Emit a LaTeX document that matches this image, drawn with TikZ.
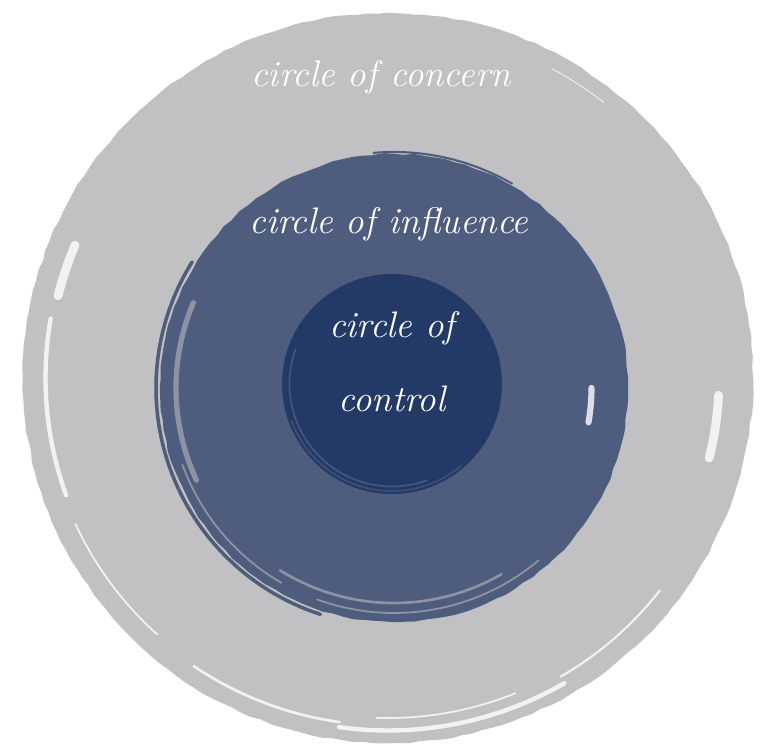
\documentclass[tikz,border=0pt]{standalone}
\usetikzlibrary{positioning, calc, decorations.pathmorphing}
\definecolor{concerngray}{HTML}{C1C1C3}
\definecolor{influenceblue}{HTML}{4E5D7E}
\definecolor{controlblue}{HTML}{243A66}
\tikzset{
    ring_node/.style={circle, inner sep=0pt, draw=none},
    rough_edge/.style={decorate, decoration={random steps, segment length=6pt, amplitude=0.5pt}},
    ring_text/.style={text=white, font=\fontsize{21}{25}\selectfont\itshape, align=center, inner sep=0pt},
    core_text/.style={text=white, font=\fontsize{21}{42}\selectfont\itshape, align=center, inner sep=0pt},
    streak/.style={draw=white, line cap=round, opacity=0.8},
    gray_streak/.style={draw=concerngray, line cap=round, opacity=0.55},
    tail/.style={draw=influenceblue, line cap=round},
}

\begin{document}
\begin{tikzpicture}
      \useasboundingbox (0,0) rectangle (15.44,14.92);
      %%%%%%%%%%%
      % Circles %
      %%%%%%%%%%%
      \node (concern) [ring_node, rough_edge, fill=concerngray, minimum size=14.6cm] at (7.76,7.36) {};
      \node (influence) [ring_node, rough_edge, fill=influenceblue, minimum size=9.36cm] at (7.88,7.16) {};
      \node (control) [ring_node, fill=controlblue, minimum size=4.4cm] at (7.84,7.24) {};

      %%%%%%%%%%%%%%%%%
      % Brush strokes %
      %%%%%%%%%%%%%%%%%
      \begin{scope}[shift={(concern.center)}]
          \draw [streak, line width=5pt] (157:6.8) arc (157:166:6.8);
          \draw [streak, line width=2.5pt] (170:6.85) arc (170:200:6.85);
          \draw [streak, line width=1pt] (205:6.9) arc (205:228:6.9);
          \draw [streak, line width=1.5pt] (236:6.95) arc (236:262:6.95);
          \draw [streak, line width=2.5pt] (262:7.05) arc (262:300:7.05);
          \draw [streak, line width=1pt] (268:6.8) arc (268:292:6.8);
          \draw [streak, line width=1.2pt] (300:6.9) arc (300:322:6.9);
          \draw [streak, line width=5pt] (-3:6.62) arc (-3:-14:6.62);
          \draw [streak, line width=0.5pt] (62:7.0) arc (62:52:7.0);
      \end{scope}
      \begin{scope}[shift={(influence.center)}]
          \draw [tail, line width=2pt] (148:4.76) arc (148:252:4.76);
          \draw [tail, line width=1.2pt] (95:4.72) arc (95:60:4.72);
          \draw [gray_streak, line width=3pt] (157:4.36) arc (157:205:4.36);
          \draw [gray_streak, line width=1pt] (200:4.5) arc (200:240:4.5);
          \draw [gray_streak, line width=1.5pt] (238:4.3) arc (238:300:4.3);
          \draw [gray_streak, line width=1pt] (250:4.5) arc (250:310:4.5);
          \draw [streak, line width=3.5pt] (0:3.95) arc (0:-10:3.95);
      \end{scope}
      \begin{scope}[shift={(control.center)}]
          \draw [tail, line width=1pt, opacity=0.8] (160:2.05) arc (160:290:2.05);
          \draw [tail, line width=0.8pt, opacity=0.7] (200:2.14) arc (200:310:2.14);
      \end{scope}

      %%%%%%%%%%
      % Labels %
      %%%%%%%%%%
      \node (concern_text) [ring_text, below = 1.3cm of concern.north, anchor=center, xshift=-0.14cm]
          {circle of concern};
      \node (influence_text) [ring_text, below = 1.42cm of influence.north, anchor=center, xshift=-0.1cm]
          {circle of influence};
      \node (control_text) [core_text, above = 0.44cm of control.center, anchor=center]
          {circle of\\ control};
\end{tikzpicture}
\end{document}
